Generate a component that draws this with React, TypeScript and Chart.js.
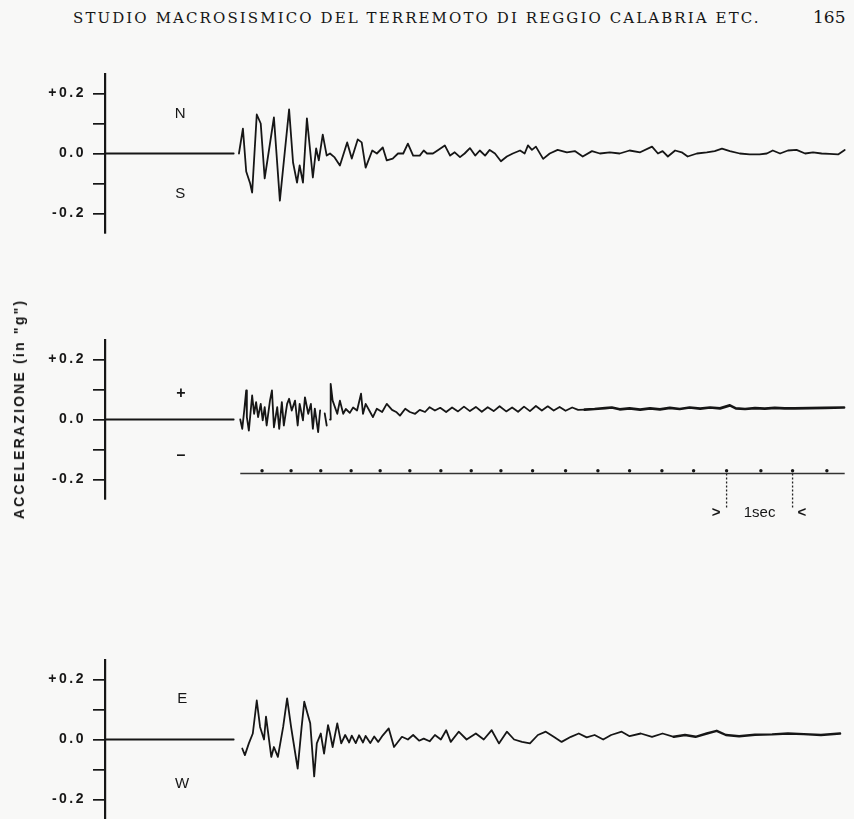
import React, { useEffect, useRef } from "react";
import { Chart, registerables } from "chart.js";

Chart.register(...registerables);

// ---------- texts ----------
const PAGE_TITLE = "STUDIO MACROSISMICO DEL TERREMOTO DI REGGIO CALABRIA ETC.";
const PAGE_NUMBER = "165";
const Y_TITLE = 'ACCELERAZIONE (in "g")';
const TICK_VALUES = [-0.2, -0.1, 0, 0.1, 0.2];
const TICK_TEXTS = ["-0.2", "", "0.0", "", "+0.2"];
const SECOND_TEXT = "1sec";

// ---------- scales (seconds, g) ----------
const T_MAX = 11.26;
const G_LIMIT = 0.265;

// ---------- traces: [time s, acceleration g] ----------
const NS_TRACE: [number, number | null][] = [
  [0, 0], [1.95, 0], [1.99, null],
  [2.03, 0], [2.09, 0.083], [2.14, -0.06], [2.2, -0.1], [2.23, -0.13], [2.3, 0.13], [2.36, 0.1],
  [2.42, -0.083], [2.56, 0.12], [2.65, -0.157], [2.79, 0.147], [2.85, -0.03], [2.91, -0.097],
  [2.95, -0.04], [3.0, -0.097], [3.06, 0.117], [3.15, -0.08], [3.2, 0.017], [3.24, -0.023],
  [3.3, 0.063], [3.36, -0.007], [3.41, 0], [3.48, -0.013], [3.56, -0.04], [3.67, 0.037],
  [3.74, -0.017], [3.83, 0.047], [3.89, 0.037], [3.95, -0.047], [4.05, 0.01], [4.12, 0],
  [4.21, 0.02], [4.27, -0.023], [4.36, -0.017], [4.44, 0], [4.52, 0], [4.59, 0.033],
  [4.67, -0.007], [4.77, -0.007], [4.83, 0.01], [4.88, 0], [4.97, 0], [5.05, 0.012],
  [5.15, 0.027], [5.23, -0.007], [5.3, 0.004], [5.38, -0.012], [5.45, 0], [5.53, 0.018],
  [5.61, -0.007], [5.68, 0.01], [5.76, -0.007], [5.83, 0.012], [5.91, 0], [6.0, -0.026],
  [6.09, -0.01], [6.18, 0], [6.29, 0.01], [6.36, 0], [6.41, 0.027], [6.47, 0.012],
  [6.53, 0.023], [6.64, -0.018], [6.74, 0], [6.86, 0.012], [7.0, 0.004], [7.12, 0.008],
  [7.24, -0.01], [7.38, 0.008], [7.5, 0], [7.65, 0.004], [7.8, 0], [7.95, 0.01],
  [8.11, 0.004], [8.29, 0.023], [8.38, 0], [8.45, 0.008], [8.53, -0.01], [8.64, 0.01],
  [8.74, 0.004], [8.83, -0.01], [8.97, 0], [9.12, 0.004], [9.24, 0.008], [9.35, 0.016],
  [9.47, 0.008], [9.62, 0], [9.77, -0.003], [9.92, -0.003], [10.03, 0], [10.12, 0.01],
  [10.23, 0], [10.35, 0.01], [10.48, 0.012], [10.61, 0], [10.73, 0.004], [10.86, 0],
  [10.98, -0.001], [11.11, -0.003], [11.21, 0.012],
];

const UD_TRACE: [number, number | null][] = [
  [0, 0], [1.95, 0], [2.0, null],
  [2.05, 0], [2.08, -0.031], [2.11, 0.03], [2.14, 0.097], [2.15, 0.008], [2.18, -0.037],
  [2.23, 0.08], [2.26, 0.019], [2.29, 0.058], [2.32, 0.008], [2.36, 0.052], [2.39, -0.003],
  [2.42, 0.041], [2.45, -0.02], [2.5, 0.063], [2.53, 0.097], [2.56, -0.026], [2.61, 0.041],
  [2.64, -0.031], [2.68, 0.058], [2.71, -0.02], [2.76, 0.052], [2.79, 0.069], [2.83, 0.03],
  [2.88, 0.063], [2.92, -0.02], [2.95, 0.052], [3.0, -0.003], [3.03, 0.074], [3.08, 0.019],
  [3.12, 0.052], [3.15, -0.031], [3.18, 0.036], [3.23, -0.042], [3.26, 0.03], [3.3, null],
  [3.33, 0.02], [3.36, -0.02], [3.39, null],
  [3.41, 0.0], [3.42, 0.119], [3.45, 0.063], [3.52, 0.019], [3.56, 0.063], [3.61, 0.019],
  [3.65, 0.035], [3.71, 0.022], [3.76, 0.04], [3.82, 0.03], [3.88, 0.086], [3.91, 0.019],
  [3.95, 0.052], [4.02, 0.024], [4.06, 0.008], [4.12, 0.036], [4.2, 0.025], [4.27, 0.052],
  [4.35, 0.032], [4.42, 0.024], [4.47, 0.013], [4.55, 0.036], [4.62, 0.025], [4.7, 0.019],
  [4.77, 0.032], [4.85, 0.025], [4.92, 0.041], [5.0, 0.03], [5.08, 0.039], [5.17, 0.025],
  [5.26, 0.04], [5.35, 0.027], [5.44, 0.043], [5.53, 0.028], [5.62, 0.042], [5.71, 0.026],
  [5.8, 0.041], [5.89, 0.028], [5.98, 0.044], [6.08, 0.027], [6.17, 0.04], [6.26, 0.026],
  [6.35, 0.043], [6.44, 0.028], [6.53, 0.045], [6.62, 0.03], [6.71, 0.044], [6.8, 0.03],
  [6.89, 0.042], [6.98, 0.029], [7.08, 0.04], [7.17, 0.032], [7.27, 0.033], [7.42, 0.035],
  [7.58, 0.038], [7.68, 0.04], [7.8, 0.034], [7.95, 0.037], [8.11, 0.033], [8.26, 0.037],
  [8.41, 0.034], [8.56, 0.039], [8.71, 0.035], [8.86, 0.04], [9.02, 0.036], [9.17, 0.04],
  [9.32, 0.037], [9.47, 0.047], [9.56, 0.037], [9.7, 0.035], [9.85, 0.038], [10.0, 0.036],
  [10.15, 0.039], [10.3, 0.037], [10.45, 0.037], [10.68, 0.038], [10.91, 0.039], [11.2, 0.04],
];

const EW_TRACE: [number, number | null][] = [
  [0, 0], [1.95, 0], [2.02, null],
  [2.08, -0.03], [2.12, -0.052], [2.18, -0.013], [2.24, 0.02], [2.3, 0.13], [2.35, 0.042],
  [2.41, 0], [2.44, 0.076], [2.52, -0.058], [2.56, -0.025], [2.62, -0.058], [2.7, 0.042],
  [2.76, 0.137], [2.82, 0.042], [2.85, 0], [2.92, -0.097], [2.98, 0.042], [3.02, 0.126],
  [3.06, 0.093], [3.11, 0.054], [3.17, -0.123], [3.21, -0.013], [3.27, 0.02], [3.32, -0.047],
  [3.38, 0.048], [3.41, 0.02], [3.45, -0.025], [3.52, 0.054], [3.58, -0.013], [3.64, 0.015],
  [3.7, -0.01], [3.74, 0.013], [3.8, -0.012], [3.85, 0.014], [3.91, -0.01], [3.95, 0.012],
  [4.02, -0.012], [4.08, 0.01], [4.14, -0.008], [4.21, 0.014], [4.3, 0.037], [4.38, -0.025],
  [4.5, 0.009], [4.59, 0], [4.67, 0.015], [4.76, -0.004], [4.83, 0.003], [4.92, -0.006],
  [5.0, 0.015], [5.09, 0], [5.17, 0.031], [5.24, -0.008], [5.36, 0.026], [5.48, 0],
  [5.62, 0.02], [5.74, 0], [5.86, 0.031], [5.97, -0.013], [6.09, 0.026], [6.2, 0],
  [6.32, -0.008], [6.44, -0.013], [6.56, 0.015], [6.68, 0.026], [6.8, 0.009], [6.92, -0.008],
  [7.06, 0.009], [7.18, 0.02], [7.3, 0.007], [7.42, 0.015], [7.55, 0], [7.67, 0.015],
  [7.83, 0.026], [7.95, 0.011], [8.12, 0.02], [8.29, 0.009], [8.45, 0.02], [8.62, 0.009],
  [8.79, 0.015], [8.95, 0.009], [9.12, 0.02], [9.27, 0.029], [9.41, 0.015], [9.61, 0.011],
  [9.85, 0.016], [10.11, 0.017], [10.35, 0.02], [10.59, 0.018], [10.85, 0.015], [11.14, 0.02],
];

// time marks of the recorder (every half second), seconds
const TIME_MARKS = [2.38, 2.82, 3.27, 3.73, 4.17, 4.62, 5.09, 5.55, 6.0, 6.48, 6.98, 7.47, 7.95, 8.44, 8.92, 9.42, 9.94, 10.42, 10.94];
const TIME_LINE_START = 2.05;
const TIME_LINE_END = 11.21;
const SECOND_MARKS = [9.42, 10.42];

// ---------- styles ----------
const INK = "#161616";
const PAPER = "#f8f8f7";
const AXIS_WIDTH_PX = 105;
const TRACE_WIDTH = 1.8;

type Mark = { text: string; t: number; g: number; font: string };

type Panel = {
  trace: [number, number | null][];
  top: number;
  padBottom: number;
  marks: Mark[];
  thickFrom: number;
  thickWidth: number;
  timeMarks: boolean;
};

const LETTER_FONT = '15px "Liberation Sans", Arial, sans-serif';
const SIGN_FONT = 'bold 16px "Liberation Sans", Arial, sans-serif';

const PANELS: Panel[] = [
  {
    trace: NS_TRACE, top: 53.5, padBottom: 20, thickFrom: 99, thickWidth: 1.8, timeMarks: false,
    marks: [
      { text: "N", t: 1.14, g: 0.133, font: LETTER_FONT },
      { text: "S", t: 1.14, g: -0.133, font: LETTER_FONT },
    ],
  },
  {
    trace: UD_TRACE, top: 319.5, padBottom: 34, thickFrom: 7.2, thickWidth: 2.7, timeMarks: true,
    marks: [
      { text: "+", t: 1.15, g: 0.087, font: SIGN_FONT },
      { text: "\u2013", t: 1.15, g: -0.12, font: SIGN_FONT },
    ],
  },
  {
    trace: EW_TRACE, top: 639.5, padBottom: 20, thickFrom: 8.6, thickWidth: 2.4, timeMarks: false,
    marks: [
      { text: "E", t: 1.17, g: 0.137, font: LETTER_FONT },
      { text: "W", t: 1.17, g: -0.147, font: LETTER_FONT },
    ],
  },
];

const AREA_HEIGHT = 159;
const PAD_TOP = 20;

function PanelChart({ panel }: { panel: Panel }) {
  const ref = useRef<HTMLCanvasElement | null>(null);
  const height = AREA_HEIGHT + PAD_TOP + panel.padBottom;

  useEffect(() => {
    if (!ref.current) return;
    const datasets: any[] = [
      {
        data: panel.trace.map(([t, g]) => ({ x: t, y: g })),
        borderColor: INK,
        borderWidth: TRACE_WIDTH,
        pointRadius: 0,
        tension: 0,
        spanGaps: false,
        borderJoinStyle: "round",
        borderCapStyle: "round",
        segment: {
          borderWidth: (ctx: any) => (ctx.p0.parsed.x >= panel.thickFrom ? panel.thickWidth : TRACE_WIDTH),
        },
      },
    ];
    if (panel.timeMarks) {
      const level = -0.18;
      const linePts = [TIME_LINE_START, ...TIME_MARKS, TIME_LINE_END].map((t) => ({ x: t, y: level }));
      datasets.push({
        data: linePts,
        borderColor: "#333333",
        borderWidth: 1.5,
        pointRadius: 0,
      });
      datasets.push({
        data: TIME_MARKS.map((t) => ({ x: t, y: level + 0.009 })),
        showLine: false,
        pointRadius: 1.7,
        pointBackgroundColor: INK,
        pointBorderWidth: 0,
      });
      SECOND_MARKS.forEach((t) => {
        datasets.push({
          data: [{ x: t, y: level }, { x: t, y: -0.297 }],
          borderColor: "#222222",
          borderWidth: 1.3,
          borderDash: [2, 2],
          pointRadius: 0,
          clip: false,
        });
      });
    }

    const overlay = {
      id: "overlay",
      beforeDraw(chart: any) {
        chart.ctx.letterSpacing = "2.5px";
      },
      afterDraw(chart: any) {
        const { ctx, scales } = chart;
        const x = scales.x;
        const y = scales.y;
        ctx.save();
        ctx.letterSpacing = "0px";
        ctx.fillStyle = INK;
        ctx.textAlign = "center";
        ctx.textBaseline = "middle";
        for (const m of panel.marks) {
          ctx.font = m.font;
          ctx.fillText(m.text, x.getPixelForValue(m.t), y.getPixelForValue(m.g));
        }
        if (panel.timeMarks) {
          const x1 = x.getPixelForValue(SECOND_MARKS[0]);
          const x2 = x.getPixelForValue(SECOND_MARKS[1]);
          const yy = y.getPixelForValue(-0.31);
          ctx.font = 'bold 15px "Liberation Sans", Arial, sans-serif';
          ctx.textAlign = "right";
          ctx.fillText(">", x1 - 6, yy);
          ctx.textAlign = "left";
          ctx.fillText("<", x2 + 5, yy);
          ctx.textAlign = "center";
          ctx.font = '15px "Liberation Sans", Arial, sans-serif';
          ctx.fillText(SECOND_TEXT, (x1 + x2) / 2, yy);
        }
        ctx.restore();
      },
    };

    const chart = new Chart(ref.current, {
      type: "line",
      data: { datasets },
      options: {
        responsive: false,
        animation: false,
        events: [],
        layout: { padding: { top: PAD_TOP, bottom: panel.padBottom, left: 0, right: 6 } },
        plugins: { legend: { display: false }, tooltip: { enabled: false } },
        scales: {
          x: { type: "linear", min: 0, max: T_MAX, display: false },
          y: {
            type: "linear",
            min: -G_LIMIT,
            max: G_LIMIT,
            afterFit: (s: any) => {
              s.width = AXIS_WIDTH_PX;
            },
            afterBuildTicks: (s: any) => {
              s.ticks = TICK_VALUES.map((value) => ({ value }));
            },
            ticks: {
              autoSkip: false,
              padding: 7,
              color: INK,
              font: { family: '"Liberation Sans", Arial, sans-serif', size: 14, weight: "bold" },
              callback: (_v: any, i: number) => TICK_TEXTS[i],
            },
            grid: { drawOnChartArea: false, drawTicks: true, tickLength: 12, color: INK, lineWidth: 1.7 },
            border: { display: true, color: INK, width: 2.2 },
          },
        },
      } as any,
      plugins: [overlay],
    });
    return () => chart.destroy();
  }, [panel]);

  return (
    <canvas
      ref={ref}
      width={854}
      height={height}
      style={{ position: "absolute", left: 0, top: panel.top, width: 854, height }}
    />
  );
}

export default function App() {
  return (
    <div style={{ position: "relative", width: 854, height: 819, overflow: "hidden", background: PAPER }}>
      <style>{"html,body{margin:0;padding:0;overflow:hidden;background:#f8f8f7}"}</style>
      <div
        style={{
          position: "absolute",
          left: 73,
          top: 8,
          fontFamily: '"DejaVu Serif", "Liberation Serif", serif',
          fontSize: 15,
          lineHeight: "20px",
          letterSpacing: "2.1px",
          color: INK,
          whiteSpace: "nowrap",
        }}
      >
        {PAGE_TITLE}
      </div>
      <div
        style={{
          position: "absolute",
          left: 813,
          top: 7,
          fontFamily: '"DejaVu Serif", "Liberation Serif", serif',
          fontSize: 17,
          lineHeight: "20px",
          color: INK,
        }}
      >
        {PAGE_NUMBER}
      </div>
      {PANELS.map((p, i) => (
        <PanelChart key={i} panel={p} />
      ))}
      <div
        style={{
          position: "absolute",
          left: 19,
          top: 409,
          transform: "translate(-50%, -50%) rotate(-90deg)",
          fontFamily: '"Liberation Sans", Arial, sans-serif',
          fontSize: 14,
          fontWeight: "bold",
          letterSpacing: "2.2px",
          color: INK,
          whiteSpace: "nowrap",
          zIndex: 2,
        }}
      >
        {Y_TITLE}
      </div>
    </div>
  );
}
